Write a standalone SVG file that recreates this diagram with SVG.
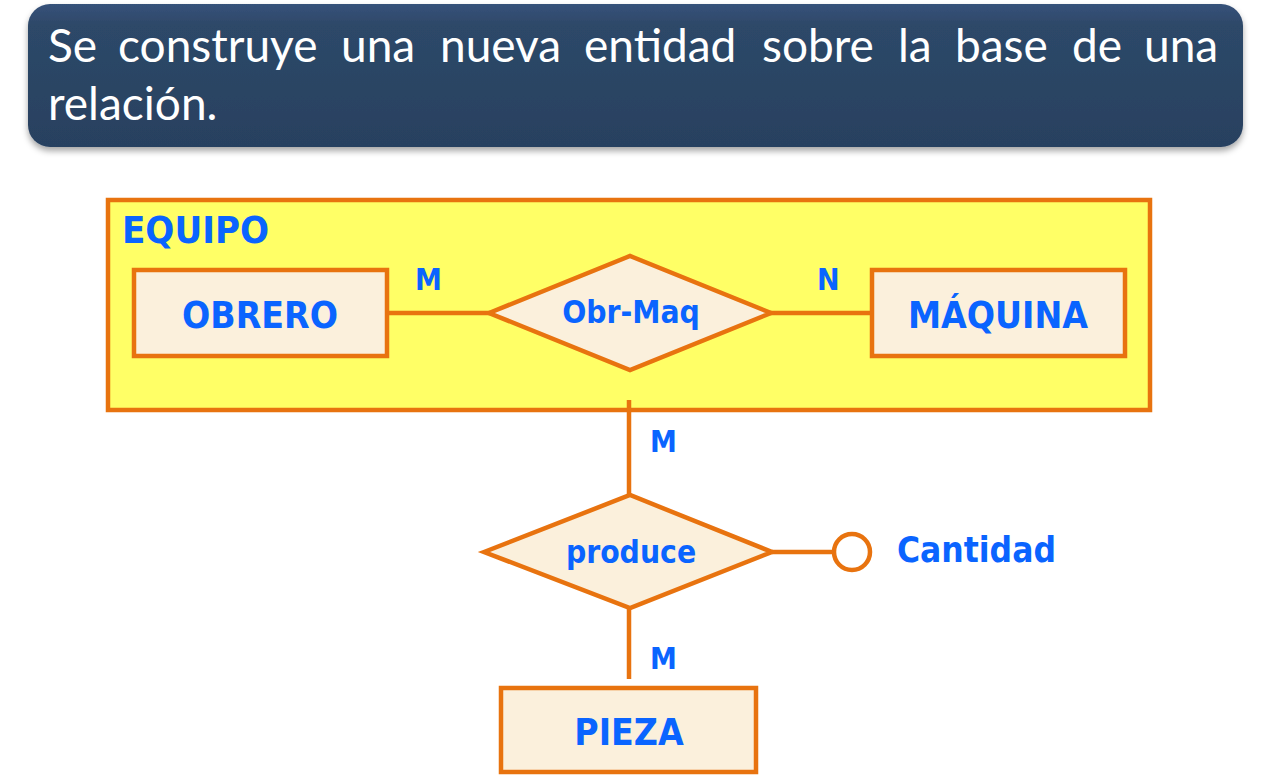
<svg xmlns="http://www.w3.org/2000/svg" width="1278" height="780" viewBox="0 0 1278 780">
<defs>
<linearGradient id="hdr" x1="0" y1="0" x2="0" y2="1">
<stop offset="0" stop-color="#37527a"/>
<stop offset="0.15" stop-color="#2d4868"/>
<stop offset="1" stop-color="#284160"/>
</linearGradient>
<filter id="sh" x="-5%" y="-10%" width="110%" height="130%">
<feDropShadow dx="0" dy="4" stdDeviation="3" flood-color="#000" flood-opacity="0.35"/>
</filter>
</defs>
<style>
.title{font-family:Lato,"Open Sans",sans-serif;font-size:46px;fill:#ffffff}
.lbl{font-family:"DejaVu Sans Condensed","DejaVu Sans",sans-serif;font-stretch:condensed;font-weight:bold;fill:#0a64ff}
.ent{font-size:37px;text-anchor:middle}
.rel{font-size:31.5px;text-anchor:middle}
.card{font-size:30px}
.shape{fill:#fbf0dc;stroke:#e8730f;stroke-width:4.5}
.conn{stroke:#e8730f;stroke-width:4.5;fill:none}
</style>
<rect width="1278" height="780" fill="#ffffff"/>
<g id="header">
<rect x="28" y="4" width="1215" height="143" rx="22" fill="url(#hdr)" filter="url(#sh)"/>
<text class="title" y="62"><tspan x="48">Se</tspan><tspan x="118">construye</tspan><tspan x="341">una</tspan><tspan x="440">nueva</tspan><tspan x="584">entidad</tspan><tspan x="762">sobre</tspan><tspan x="898">la</tspan><tspan x="955">base</tspan><tspan x="1072">de</tspan><tspan x="1144">una</tspan></text>
<text class="title" x="48" y="120">relación.</text>
</g>
<g id="equipo">
<rect x="108" y="200" width="1042" height="210" fill="#ffff66" stroke="#e8730f" stroke-width="4.5"/>
<text class="lbl" x="122" y="243" font-size="38">EQUIPO</text>
</g>
<g id="connectors">
<line class="conn" x1="388" y1="313" x2="490" y2="313"/>
<line class="conn" x1="770" y1="313" x2="872" y2="313"/>
<line class="conn" x1="629" y1="400" x2="629" y2="495"/>
<line class="conn" x1="629" y1="608" x2="629" y2="679"/>
<line class="conn" x1="772" y1="552" x2="834" y2="552"/>
<text class="lbl card" x="415" y="290">M</text>
<text class="lbl card" x="817" y="290">N</text>
<text class="lbl card" x="650" y="452">M</text>
<text class="lbl card" x="650" y="669">M</text>
</g>
<g id="obrero">
<rect class="shape" x="134" y="270" width="253" height="86"/>
<text class="lbl ent" x="260" y="328">OBRERO</text>
</g>
<g id="obr-maq">
<polygon class="shape" points="489,313 630,256 771,313 630,370"/>
<text class="lbl rel" x="631" y="323">Obr-Maq</text>
</g>
<g id="maquina">
<rect class="shape" x="872" y="270" width="253" height="86"/>
<text class="lbl ent" x="998" y="328">MÁQUINA</text>
</g>
<g id="produce">
<polygon class="shape" points="484,552 630,495 772,552 630,608"/>
<text class="lbl rel" x="631" y="563">produce</text>
</g>
<g id="cantidad">
<circle cx="852" cy="552" r="18" fill="#ffffff" stroke="#e8730f" stroke-width="4.5"/>
<text class="lbl" x="897" y="562" font-size="35">Cantidad</text>
</g>
<g id="pieza">
<rect class="shape" x="501" y="688" width="255" height="84"/>
<text class="lbl ent" x="629" y="745">PIEZA</text>
</g>
</svg>
